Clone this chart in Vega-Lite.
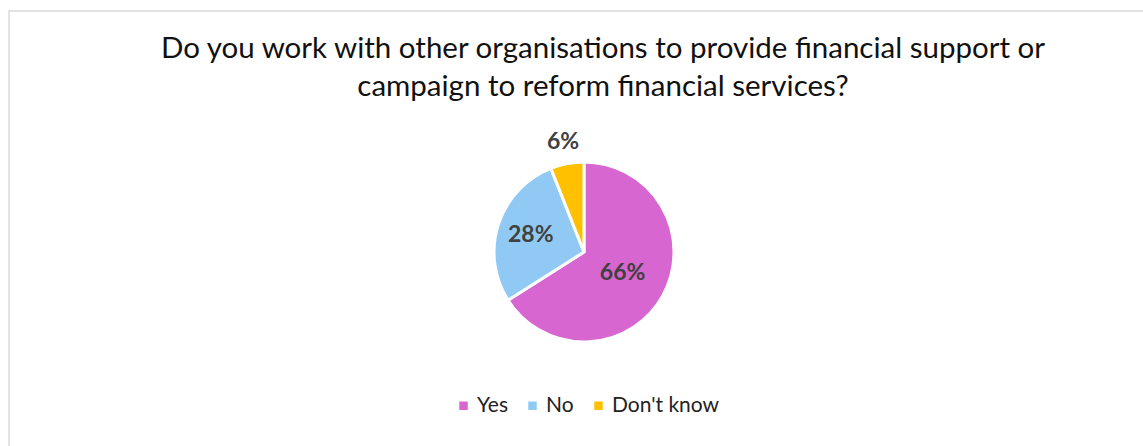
{
  "$schema": "https://vega.github.io/schema/vega-lite/v6.json",
  "width": 1150,
  "height": 482,
  "autosize": {"type": "none"},
  "padding": {"left": 9, "top": 11, "right": 0, "bottom": 0},
  "background": "white",
  "view": {"stroke": "#D9D9D9", "strokeWidth": 1.5},
  "title": {
    "text": ["Do you work with other organisations to provide financial support or", "campaign to reform financial services?"],
    "font": "Lato",
    "fontSize": 29.5,
    "fontWeight": "normal",
    "color": "#111111",
    "anchor": "middle",
    "frame": "group",
    "offset": -91,
    "lineHeight": 38,
    "dx": 19
  },
  "data": {
    "values": [
      {"answer": "Yes", "value": 0.66, "k": 1},
      {"answer": "No", "value": 0.28, "k": 2},
      {"answer": "Don't know", "value": 0.06, "k": 3}
    ]
  },
  "encoding": {
    "theta": {"field": "value", "type": "quantitative", "stack": true},
    "order": {"field": "k", "type": "ordinal"}
  },
  "layer": [
    {
      "mark": {"type": "arc", "outerRadius": 90, "stroke": "white", "strokeWidth": 3},
      "encoding": {
        "color": {
          "field": "answer",
          "type": "nominal",
          "sort": ["Yes", "No", "Don't know"],
          "scale": {"domain": ["Yes", "No", "Don't know"], "range": ["#D766D0", "#90CAF4", "#FFC000"]},
          "legend": {
            "orient": "none",
            "direction": "horizontal",
            "legendX": 444,
            "legendY": 384,
            "title": null,
            "symbolType": "square",
            "symbolSize": 72,
            "symbolStrokeWidth": 0,
            "labelFont": "Lato",
            "labelFontSize": 21,
            "labelColor": "#222222",
            "labelOffset": 3,
            "columnPadding": 14
          }
        }
      }
    },
    {
      "mark": {"type": "text", "radius": 44, "font": "Lato", "fontSize": 23, "fontWeight": "bold", "color": "#404040"},
      "encoding": {
        "detail": {"field": "answer"},
        "text": {"condition": {"test": "datum.answer !== 'Yes'", "value": ""}, "field": "value", "type": "quantitative", "format": ".0%"}
      }
    },
    {
      "mark": {"type": "text", "radius": 56, "font": "Lato", "fontSize": 23, "fontWeight": "bold", "color": "#404040"},
      "encoding": {
        "detail": {"field": "answer"},
        "text": {"condition": {"test": "datum.answer !== 'No'", "value": ""}, "field": "value", "type": "quantitative", "format": ".0%"}
      }
    },
    {
      "mark": {"type": "text", "radius": 112, "font": "Lato", "fontSize": 23, "fontWeight": "bold", "color": "#404040"},
      "encoding": {
        "detail": {"field": "answer"},
        "text": {"condition": {"test": "datum.answer !== \"Don't know\"", "value": ""}, "field": "value", "type": "quantitative", "format": ".0%"}
      }
    }
  ]
}
